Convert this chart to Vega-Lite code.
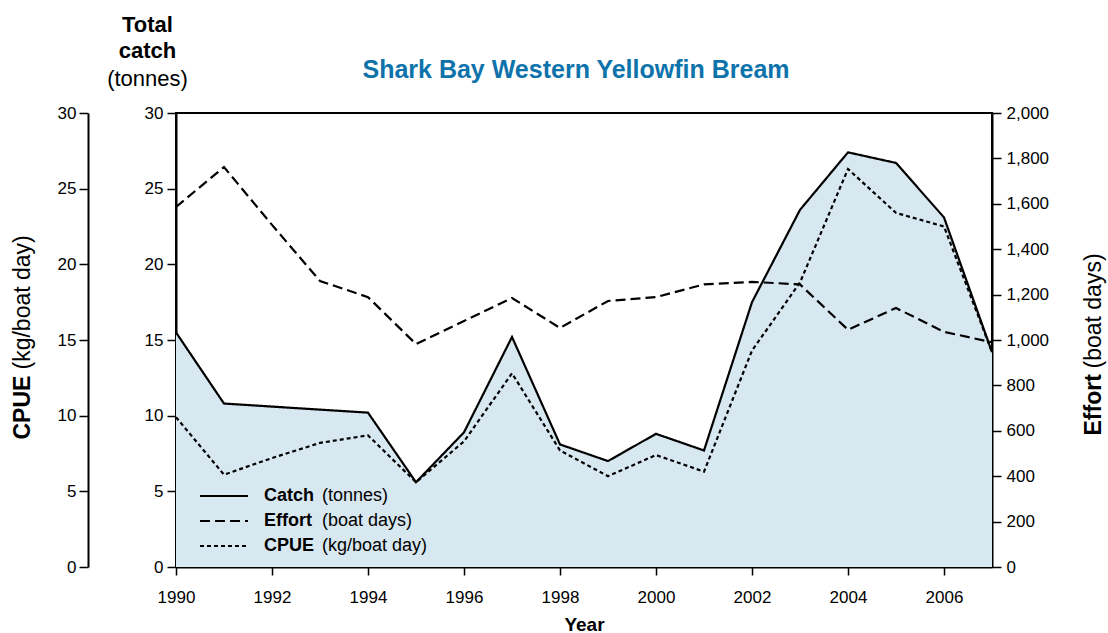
{
  "$schema": "https://vega.github.io/schema/vega-lite/v6.json",
  "width": 816,
  "height": 454,
  "autosize": {"type": "none"},
  "padding": {"left": 176, "top": 113, "right": 116, "bottom": 66},
  "background": "white",
  "config": {
    "font": "Liberation Sans",
    "view": {"stroke": "black", "strokeWidth": 2},
    "axis": {
      "labelFont": "Liberation Sans", "labelFontSize": 17, "labelColor": "black",
      "domainColor": "black", "domainWidth": 2, "tickColor": "black", "tickWidth": 1.5,
      "tickSize": 9, "grid": false, "titleColor": "black", "titleFont": "Liberation Sans"
    },
    "legend": {"labelFont": "Liberation Sans", "labelFontSize": 18, "labelColor": "black"}
  },
  "title": {
    "text": "Shark Bay Western Yellowfin Bream",
    "color": "#0e73ab", "fontSize": 25, "fontWeight": "bold",
    "anchor": "middle", "offset": 0, "baseline": "alphabetic", "dy": 90, "dx": -8,
    "font": "Liberation Sans"
  },
  "data": {
    "values": [
      {"year": 1990, "series": "Catch", "unit": "(tonnes)", "value": 15.5},
      {"year": 1991, "series": "Catch", "unit": "(tonnes)", "value": 10.8},
      {"year": 1992, "series": "Catch", "unit": "(tonnes)", "value": 10.6},
      {"year": 1993, "series": "Catch", "unit": "(tonnes)", "value": 10.4},
      {"year": 1994, "series": "Catch", "unit": "(tonnes)", "value": 10.2},
      {"year": 1995, "series": "Catch", "unit": "(tonnes)", "value": 5.6},
      {"year": 1996, "series": "Catch", "unit": "(tonnes)", "value": 8.9},
      {"year": 1997, "series": "Catch", "unit": "(tonnes)", "value": 15.2},
      {"year": 1998, "series": "Catch", "unit": "(tonnes)", "value": 8.1},
      {"year": 1999, "series": "Catch", "unit": "(tonnes)", "value": 7.0},
      {"year": 2000, "series": "Catch", "unit": "(tonnes)", "value": 8.8},
      {"year": 2001, "series": "Catch", "unit": "(tonnes)", "value": 7.7},
      {"year": 2002, "series": "Catch", "unit": "(tonnes)", "value": 17.5},
      {"year": 2003, "series": "Catch", "unit": "(tonnes)", "value": 23.6},
      {"year": 2004, "series": "Catch", "unit": "(tonnes)", "value": 27.4},
      {"year": 2005, "series": "Catch", "unit": "(tonnes)", "value": 26.7},
      {"year": 2006, "series": "Catch", "unit": "(tonnes)", "value": 23.1},
      {"year": 2007, "series": "Catch", "unit": "(tonnes)", "value": 14.2},
      {"year": 1990, "series": "Effort", "unit": "(boat days)", "value": 1586},
      {"year": 1991, "series": "Effort", "unit": "(boat days)", "value": 1762},
      {"year": 1992, "series": "Effort", "unit": "(boat days)", "value": 1507},
      {"year": 1993, "series": "Effort", "unit": "(boat days)", "value": 1260},
      {"year": 1994, "series": "Effort", "unit": "(boat days)", "value": 1189},
      {"year": 1995, "series": "Effort", "unit": "(boat days)", "value": 982},
      {"year": 1996, "series": "Effort", "unit": "(boat days)", "value": 1084},
      {"year": 1997, "series": "Effort", "unit": "(boat days)", "value": 1185},
      {"year": 1998, "series": "Effort", "unit": "(boat days)", "value": 1053},
      {"year": 1999, "series": "Effort", "unit": "(boat days)", "value": 1172},
      {"year": 2000, "series": "Effort", "unit": "(boat days)", "value": 1189},
      {"year": 2001, "series": "Effort", "unit": "(boat days)", "value": 1245},
      {"year": 2002, "series": "Effort", "unit": "(boat days)", "value": 1256},
      {"year": 2003, "series": "Effort", "unit": "(boat days)", "value": 1245},
      {"year": 2004, "series": "Effort", "unit": "(boat days)", "value": 1045},
      {"year": 2005, "series": "Effort", "unit": "(boat days)", "value": 1141},
      {"year": 2006, "series": "Effort", "unit": "(boat days)", "value": 1036},
      {"year": 2007, "series": "Effort", "unit": "(boat days)", "value": 990},
      {"year": 1990, "series": "CPUE", "unit": "(kg/boat day)", "value": 9.9},
      {"year": 1991, "series": "CPUE", "unit": "(kg/boat day)", "value": 6.1},
      {"year": 1992, "series": "CPUE", "unit": "(kg/boat day)", "value": 7.2},
      {"year": 1993, "series": "CPUE", "unit": "(kg/boat day)", "value": 8.2},
      {"year": 1994, "series": "CPUE", "unit": "(kg/boat day)", "value": 8.7},
      {"year": 1995, "series": "CPUE", "unit": "(kg/boat day)", "value": 5.6},
      {"year": 1996, "series": "CPUE", "unit": "(kg/boat day)", "value": 8.3},
      {"year": 1997, "series": "CPUE", "unit": "(kg/boat day)", "value": 12.8},
      {"year": 1998, "series": "CPUE", "unit": "(kg/boat day)", "value": 7.7},
      {"year": 1999, "series": "CPUE", "unit": "(kg/boat day)", "value": 6.0},
      {"year": 2000, "series": "CPUE", "unit": "(kg/boat day)", "value": 7.4},
      {"year": 2001, "series": "CPUE", "unit": "(kg/boat day)", "value": 6.3},
      {"year": 2002, "series": "CPUE", "unit": "(kg/boat day)", "value": 14.3},
      {"year": 2003, "series": "CPUE", "unit": "(kg/boat day)", "value": 18.8},
      {"year": 2004, "series": "CPUE", "unit": "(kg/boat day)", "value": 26.3},
      {"year": 2005, "series": "CPUE", "unit": "(kg/boat day)", "value": 23.4},
      {"year": 2006, "series": "CPUE", "unit": "(kg/boat day)", "value": 22.5},
      {"year": 2007, "series": "CPUE", "unit": "(kg/boat day)", "value": 14.2}
    ]
  },
  "encoding": {
    "x": {
      "field": "year", "type": "quantitative",
      "scale": {"domain": [1990, 2007], "nice": false, "zero": false},
      "axis": {
        "values": [1990, 1992, 1994, 1996, 1998, 2000, 2002, 2004, 2006],
        "format": "d", "title": "Year", "titleFontSize": 19, "titleFontWeight": "bold",
        "titleY": 63, "titleBaseline": "alphabetic", "labelPadding": 14, "tickSize": 8,
        "labelFlush": false, "labelOverlap": false
      }
    }
  },
  "layer": [
    {
      "transform": [{"filter": "datum.series === 'Catch'"}],
      "mark": {"type": "area", "color": "#d8e8f1", "interpolate": "linear"},
      "encoding": {
        "y": {
          "field": "value", "type": "quantitative", "scale": {"domain": [0, 30]},
          "axis": {
            "orient": "left", "labels": false, "ticks": false, "domain": false,
            "title": "(tonnes)", "titleAngle": 0, "titleAlign": "center",
            "titleBaseline": "alphabetic", "titleX": -29, "titleY": -28,
            "titleFontSize": 22, "titleFontWeight": "normal"
          }
        }
      }
    },
    {
      "transform": [{"filter": "datum.series === 'Catch'"}],
      "mark": {"type": "line", "color": "black", "strokeWidth": 2.2},
      "encoding": {
        "y": {
          "field": "value", "type": "quantitative", "scale": {"domain": [0, 30]},
          "axis": {
            "orient": "left", "values": [0, 5, 10, 15, 20, 25, 30], "labelPadding": 4,
            "title": ["Total", "catch"], "titleAngle": 0, "titleAlign": "center",
            "titleBaseline": "alphabetic", "titleX": -29, "titleY": -82,
            "titleLineHeight": 26, "titleFontSize": 22, "titleFontWeight": "bold"
          }
        },
        "strokeDash": {
          "field": "series", "type": "nominal",
          "scale": {"domain": ["Catch", "Effort", "CPUE"], "range": [[1, 0], [10, 5], [4, 3]]},
          "legend": {
            "orient": "none", "legendX": 39, "legendY": 374, "title": null,
            "symbolType": "M-4,0H4", "symbolSize": 144, "symbolStrokeWidth": 2,
            "symbolStrokeColor": "black",
            "labelFontWeight": "bold", "labelOffset": 31, "rowPadding": 7, "padding": 0
          }
        },
        "opacity": {
          "field": "unit", "type": "nominal",
          "scale": {"domain": ["(tonnes)", "(boat days)", "(kg/boat day)"], "range": [1, 1, 1]},
          "legend": {
            "orient": "none", "legendX": 128, "legendY": 374, "title": null,
            "symbolSize": 0, "labelOffset": 0, "rowPadding": 7, "padding": 0,
            "labelFontWeight": "normal",
            "encode": {"symbols": {"update": {"opacity": {"value": 0}}}}
          }
        }
      }
    },
    {
      "transform": [{"filter": "datum.series === 'CPUE'"}],
      "mark": {"type": "line", "color": "black", "strokeWidth": 2.2},
      "encoding": {
        "y": {
          "field": "value", "type": "quantitative", "scale": {"domain": [0, 30]},
          "axis": {
            "orient": "left", "offset": 88, "values": [0, 5, 10, 15, 20, 25, 30], "labelPadding": 3,
            "title": "CPUE", "titleAngle": -90, "titleAlign": "left",
            "titleBaseline": "alphabetic", "titleX": -59, "titleY": 326,
            "titleFontSize": 23, "titleFontWeight": "bold"
          }
        },
        "strokeDash": {"field": "series", "type": "nominal"},
        "opacity": {"field": "unit", "type": "nominal"}
      }
    },
    {
      "transform": [{"filter": "datum.series === 'CPUE'"}],
      "mark": {"type": "line", "color": "black", "opacity": 0},
      "encoding": {
        "y": {
          "field": "value", "type": "quantitative", "scale": {"domain": [0, 30]},
          "axis": {
            "orient": "left", "offset": 88, "labels": false, "ticks": false, "domain": false,
            "title": "(kg/boat day)", "titleAngle": -90, "titleAlign": "left",
            "titleBaseline": "alphabetic", "titleX": -59, "titleY": 256,
            "titleFontSize": 23, "titleFontWeight": "normal"
          }
        }
      }
    },
    {
      "transform": [{"filter": "datum.series === 'Effort'"}],
      "mark": {"type": "line", "color": "black", "strokeWidth": 2.2},
      "encoding": {
        "y": {
          "field": "value", "type": "quantitative", "scale": {"domain": [0, 2000]},
          "axis": {
            "orient": "right", "values": [0, 200, 400, 600, 800, 1000, 1200, 1400, 1600, 1800, 2000],
            "format": ",d", "labelPadding": 5,
            "title": "Effort", "titleAngle": -90, "titleAlign": "left",
            "titleBaseline": "alphabetic", "titleX": 108, "titleY": 322,
            "titleFontSize": 23, "titleFontWeight": "bold"
          }
        },
        "strokeDash": {"field": "series", "type": "nominal"},
        "opacity": {"field": "unit", "type": "nominal"}
      }
    },
    {
      "transform": [{"filter": "datum.series === 'Effort'"}],
      "mark": {"type": "line", "color": "black", "opacity": 0},
      "encoding": {
        "y": {
          "field": "value", "type": "quantitative", "scale": {"domain": [0, 2000]},
          "axis": {
            "orient": "right", "labels": false, "ticks": false, "domain": false,
            "title": "(boat days)", "titleAngle": -90, "titleAlign": "left",
            "titleBaseline": "alphabetic", "titleX": 108, "titleY": 255,
            "titleFontSize": 23, "titleFontWeight": "normal"
          }
        }
      }
    }
  ],
  "resolve": {"scale": {"y": "independent"}}
}
